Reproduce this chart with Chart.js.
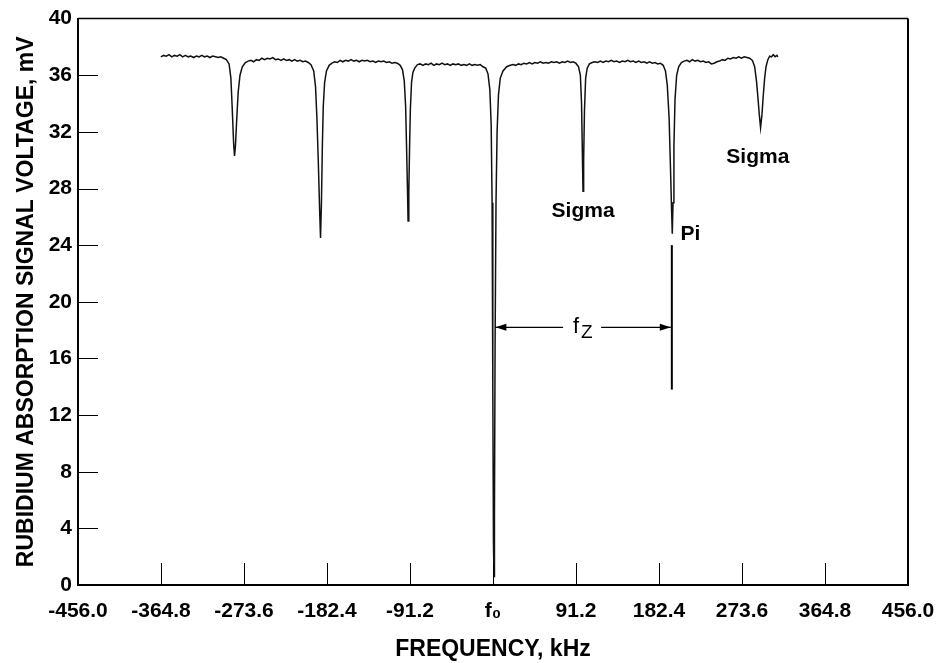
<!DOCTYPE html>
<html>
<head>
<meta charset="utf-8">
<script src="https://cdn.jsdelivr.net/npm/chart.js@4.4.1/dist/chart.umd.min.js"></script>
<style>
  html, body { margin: 0; padding: 0; background: #fff; }
</style>
</head>
<body>
<canvas id="rb" width="943" height="663"></canvas>
<script>
// trace (kHz from f0, mV)
const freqKHz = [
  -365, -362, -359, -356, -353, -350, -347, -344, -341, -338, -335, -332, -329, -326, -323, -320, -317, -314, -311, -308, -305, -302, -299, -296, -293,
  -290, -288, -286.5, -285, -284, -283, -281.5, -280, -278, -275.5, -272, -269,
  -266, -263, -260, -257, -254, -251, -248, -245, -242, -239, -236, -233, -230, -227, -224, -221, -218, -215, -212, -209, -206, -203, -200,
  -197, -195, -193.5, -192, -190.5, -189.5, -188.5, -187.5, -186.5, -185, -183, -180, -177,
  -174, -171, -168, -165, -162, -159, -156, -153, -150, -147, -144, -141, -138, -135, -132, -129, -126, -123, -120, -117, -114, -111, -108, -105, -102,
  -99.5, -97.5, -96, -95, -94, -93.3, -92.5, -91.7, -90.8, -89.5, -88, -86, -83,
  -80, -77, -74, -71, -68, -65, -62, -59, -56, -53, -50, -47, -44, -41, -38, -35, -32, -29, -26, -23, -20, -17, -14, -11, -8,
  -5.5, -3.5, -2, -1, -0.2, 0.5, 1.1, 1.6, 2.3, 3.3, 4.5, 6, 8, 11, 15, 19,
  22, 25, 28, 31, 34, 37, 40, 43, 46, 49, 52, 55, 58, 61, 64, 67, 70, 73, 76, 79, 82, 85, 88, 91,
  94, 96, 97.3, 98.2, 98.9, 99.6, 100.5, 101.8, 103.5, 106, 109,
  112, 115, 118, 121, 124, 127, 130, 133, 136, 139, 142, 145, 148, 151, 154, 157, 160, 163, 166, 169, 172, 175, 178, 181, 184, 187,
  189.5, 191.5, 193.5, 195, 196.2, 197, 197.8, 198.8, 200, 201.8, 204, 207,
  210, 213, 216, 219, 222, 225, 228, 231, 234, 237, 240, 243, 246, 249, 252, 255, 258, 261, 264, 267, 270, 273, 276, 279, 282, 285,
  287.5, 289.5, 291, 292.5, 294, 295.5, 297, 298.5, 300, 302, 304, 306, 308, 310, 312, 313
];
const signalMV = [
  37.3, 37.4, 37.35, 37.45, 37.3, 37.4, 37.35, 37.45, 37.3, 37.4, 37.3, 37.35, 37.25, 37.35, 37.3, 37.4, 37.3, 37.35, 37.25, 37.35, 37.3, 37.25, 37.3, 37.2, 37.1,
  36.8, 35.8, 33.6, 31.2, 30.3, 31.0, 33.0, 34.8, 36.0, 36.6, 36.9, 37.0,
  37.05, 36.95, 37.1, 37.05, 37.2, 37.1, 37.2, 37.15, 37.25, 37.1, 37.15, 37.05, 37.15, 37.05, 37.1, 37.0, 37.1, 37.0, 37.05, 36.95, 37.0, 36.9, 36.75,
  36.3, 35.2, 33.0, 30.0, 26.5, 24.5, 27.0, 31.0, 33.8, 35.5, 36.3, 36.7, 36.85,
  36.95, 36.9, 37.05, 36.95, 37.05, 37.0, 37.1, 37.0, 37.05, 36.95, 37.05, 37.0, 37.05, 36.95, 37.0, 36.9, 37.0, 36.95, 37.0, 36.9, 36.95, 36.85, 36.9, 36.85, 36.7,
  36.4, 35.6, 33.8, 31.0, 28.0, 25.7, 27.8, 30.8, 33.6, 35.5, 36.2, 36.5, 36.75,
  36.8, 36.7, 36.8, 36.75, 36.85, 36.7, 36.8, 36.75, 36.85, 36.75, 36.8, 36.7, 36.8, 36.75, 36.8, 36.7, 36.75, 36.7, 36.8, 36.7, 36.75, 36.7, 36.75, 36.6, 36.5,
  36.1, 35.0, 32.5, 27, 14, 3, 0.6, 5, 17, 27, 32, 34.6, 35.8, 36.3, 36.6, 36.7,
  36.75, 36.7, 36.8, 36.75, 36.85, 36.8, 36.9, 36.8, 36.9, 36.85, 36.95, 36.85, 36.9, 36.85, 36.95, 36.9, 36.95, 36.85, 36.95, 36.9, 37.0, 36.9, 36.95, 36.85,
  36.6, 36.0, 34.0, 30.5, 27.8, 30.0, 33.5, 35.8, 36.5, 36.8, 36.9,
  36.95, 36.9, 37.0, 36.9, 37.0, 36.95, 37.05, 36.95, 37.0, 36.9, 37.0, 36.95, 37.05, 36.95, 37.0, 36.9, 37.0, 36.9, 36.95, 36.85, 36.95, 36.85, 36.9, 36.8, 36.85, 36.7,
  36.3, 35.3, 33.0, 29.5, 26.5, 24.8, 27.0, 31.0, 34.3, 36.0, 36.6, 36.9,
  37.0, 37.05, 36.95, 37.1, 37.0, 37.05, 36.95, 37.0, 36.9, 36.95, 36.8, 36.85, 36.95, 37.0, 37.1, 37.05, 37.2, 37.15, 37.25, 37.2, 37.3, 37.2, 37.3, 37.25, 37.2, 37.05,
  36.6, 35.6, 34.5, 33.3, 32.3, 33.2, 34.6, 35.8, 36.6, 37.1, 37.35, 37.3, 37.45, 37.3, 37.4, 37.3
];

const xTicks = [-456, -364.8, -273.6, -182.4, -91.2, 0, 91.2, 182.4, 273.6, 364.8, 456];
const xTickLabels = ['-456.0', '-364.8', '-273.6', '-182.4', '-91.2', 'f\u2080', '91.2', '182.4', '273.6', '364.8', '456.0'];
const yTicks = [0, 4, 8, 12, 16, 20, 24, 28, 32, 36, 40];

// annotations in data units
const lineLabels = ['Sigma', 'Pi', 'Sigma'];
const lineLabelFreq = [99, 217, 291];
const lineLabelMV = [26.4, 24.8, 30.2];
const zeemanFrom = 1.5, zeemanTo = 196.5, zeemanMV = 18.2;
const piMarkerTop = 24.0, piMarkerBottom = 13.8;

const FONT = '"Liberation Sans", Arial, Helvetica, sans-serif';

const marks = {
  id: 'marks',
  afterDraw(chart) {
    const { ctx, chartArea: a, scales: { x, y } } = chart;
    const seg = (x1, y1, x2, y2) => { ctx.beginPath(); ctx.moveTo(x1, y1); ctx.lineTo(x2, y2); ctx.stroke(); };
    ctx.save();
    ctx.strokeStyle = '#000';
    ctx.fillStyle = '#000';

    // top and right frame
    ctx.lineWidth = 1.5;
    seg(a.left, a.top, a.right, a.top);
    ctx.lineWidth = 2;
    seg(a.right, a.top, a.right, a.bottom);

    // inward tick marks
    ctx.lineWidth = 1;
    y.ticks.forEach(t => {
      if (t.value <= 0 || t.value >= 40) return;
      const py = Math.round(y.getPixelForValue(t.value)) + 0.5;
      seg(a.left, py, a.left + 20, py);
    });
    x.ticks.forEach(t => {
      if (t.value <= -456 || t.value >= 456) return;
      const px = Math.round(x.getPixelForValue(t.value)) + 0.5;
      seg(px, a.bottom, px, a.bottom - 22);
    });

    // Pi marker line
    const piX = x.getPixelForValue(zeemanTo);
    ctx.lineWidth = 2;
    seg(piX, y.getPixelForValue(piMarkerTop), piX, y.getPixelForValue(piMarkerBottom));

    // f_Z arrow
    const ay = y.getPixelForValue(zeemanMV);
    const x1 = x.getPixelForValue(zeemanFrom) + 1;
    const x2 = piX - 1;
    const mid = (x1 + x2) / 2;
    ctx.lineWidth = 1.2;
    seg(x1, ay, mid - 20, ay);
    seg(mid + 18, ay, x2, ay);
    ctx.beginPath();
    ctx.moveTo(x1, ay); ctx.lineTo(x1 + 11, ay - 3.5); ctx.lineTo(x1 + 11, ay + 3.5); ctx.closePath(); ctx.fill();
    ctx.beginPath();
    ctx.moveTo(x2, ay); ctx.lineTo(x2 - 11, ay - 3.5); ctx.lineTo(x2 - 11, ay + 3.5); ctx.closePath(); ctx.fill();
    ctx.textBaseline = 'alphabetic';
    ctx.textAlign = 'left';
    ctx.font = '22px ' + FONT;
    ctx.fillText('f', mid - 10, ay + 6);
    ctx.font = '19px ' + FONT;
    ctx.fillText('Z', mid - 2, ay + 11);

    // Sigma / Pi labels
    ctx.font = 'bold 21px ' + FONT;
    ctx.textAlign = 'center';
    ctx.textBaseline = 'middle';
    lineLabels.forEach((txt, i) => {
      ctx.fillText(txt, x.getPixelForValue(lineLabelFreq[i]), y.getPixelForValue(lineLabelMV[i]));
    });
    ctx.restore();
  }
};

new Chart(document.getElementById('rb'), {
  type: 'line',
  data: {
    datasets: [{
      data: freqKHz.map((f, i) => ({ x: f, y: signalMV[i] })),
      borderColor: '#111',
      borderWidth: 1.5,
      pointRadius: 0,
      tension: 0,
      fill: false
    }]
  },
  options: {
    responsive: false,
    animation: false,
    devicePixelRatio: 1,
    layout: { padding: { top: 13, right: 35, left: 0, bottom: 0 } },
    plugins: { legend: { display: false }, tooltip: { enabled: false } },
    scales: {
      x: {
        type: 'linear',
        min: -456,
        max: 456,
        afterBuildTicks: s => { s.ticks = xTicks.map(v => ({ value: v })); },
        afterFit: s => { s.height = 78; s.paddingLeft = 0; s.paddingRight = 0; },
        grid: { display: false, drawTicks: false },
        border: { display: true, color: '#000', width: 2 },
        ticks: {
          autoSkip: false,
          maxRotation: 0,
          padding: 14,
          color: '#000',
          font: { family: FONT, size: 21, weight: 'bold' },
          callback: (v, i) => xTickLabels[i]
        },
        title: {
          display: true,
          text: 'FREQUENCY, kHz',
          color: '#000',
          padding: { top: 2, bottom: 0 },
          font: { family: FONT, size: 23, weight: 'bold' }
        }
      },
      y: {
        min: 0,
        max: 40,
        afterBuildTicks: s => { s.ticks = yTicks.map(v => ({ value: v })); },
        afterFit: s => { s.width = 78; },
        grid: { display: false, drawTicks: false },
        border: { display: true, color: '#000', width: 2 },
        ticks: {
          padding: 6,
          color: '#000',
          font: { family: FONT, size: 21, weight: 'bold' }
        },
        title: {
          display: true,
          text: 'RUBIDIUM ABSORPTION SIGNAL VOLTAGE, mV',
          color: '#000',
          padding: { top: 13, bottom: 0 },
          font: { family: FONT, size: 23, weight: 'bold' }
        }
      }
    }
  },
  plugins: [marks]
});
</script>
</body>
</html>
